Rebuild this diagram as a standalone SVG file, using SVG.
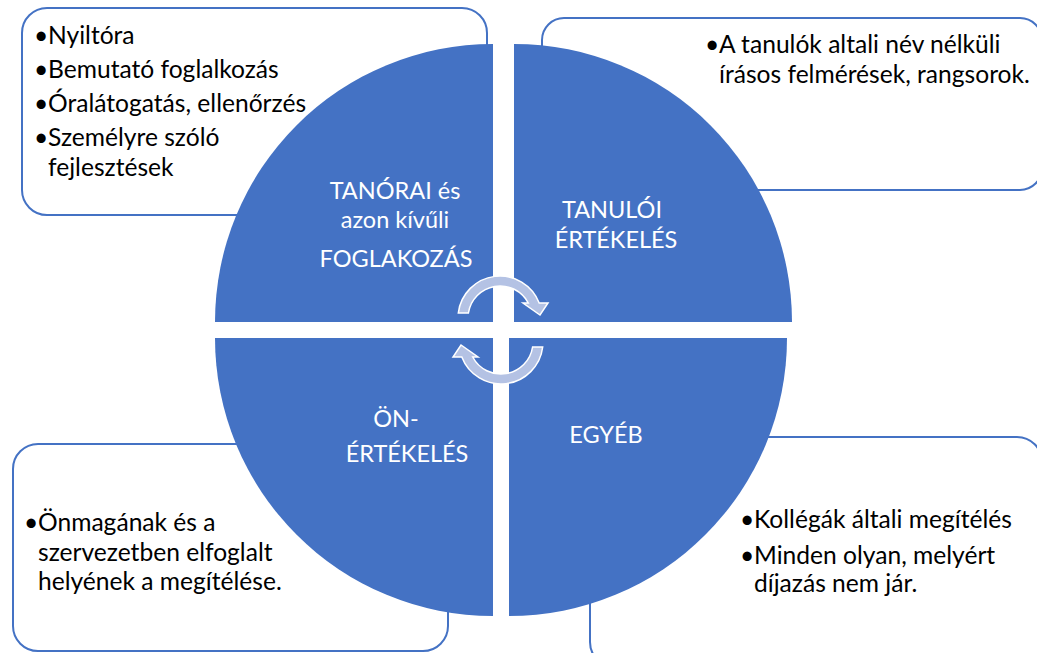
<svg xmlns="http://www.w3.org/2000/svg" width="1037" height="653" viewBox="0 0 1037 653">
<style>
.box{fill:#fff;stroke:#4472C4;stroke-width:2}
.q{fill:#4472C4}
.t{font-family:Lato,"Liberation Sans",sans-serif;font-size:24.6px;fill:#000}
.w{font-family:Lato,"Liberation Sans",sans-serif;font-size:23.5px;fill:#fff;text-anchor:middle}
.arr{fill:#B4C2E4;stroke:#fff;stroke-width:1.5;stroke-linejoin:miter}
</style>
<rect width="1037" height="653" fill="#fff"/>
<g id="box-tl">
<rect class="box" x="22" y="8" width="465" height="207" rx="25"/>
<text class="t" x="34" y="44">•</text><text class="t" x="48" y="44">Nyiltóra</text>
<text class="t" x="34" y="78">•</text><text class="t" x="48" y="78">Bemutató foglalkozás</text>
<text class="t" x="34" y="112">•</text><text class="t" x="48" y="112">Óralátogatás, ellenőrzés</text>
<text class="t" x="34" y="146">•</text><text class="t" x="48" y="146">Személyre szóló</text>
<text class="t" x="48" y="176">fejlesztések</text>
</g>
<g id="box-tr">
<rect class="box" x="542" y="18" width="500" height="172" rx="22"/>
<text class="t" x="705" y="53">•</text><text class="t" x="719" y="53">A tanulók altali név nélküli</text>
<text class="t" x="719" y="83">írásos felmérések, rangsorok.</text>
</g>
<g id="box-bl">
<rect class="box" x="13" y="444" width="435" height="207" rx="25"/>
<text class="t" x="24" y="531">•</text><text class="t" x="38" y="531">Önmagának és a</text>
<text class="t" x="38" y="561">szervezetben elfoglalt</text>
<text class="t" x="38" y="590">helyének a megítélése.</text>
</g>
<g id="box-br">
<rect class="box" x="590" y="437" width="452" height="230" rx="25"/>
<text class="t" x="740" y="528">•</text><text class="t" x="754" y="528">Kollégák általi megítélés</text>
<text class="t" x="740" y="564">•</text><text class="t" x="754" y="564">Minden olyan, melyért</text>
<text class="t" x="754" y="592">díjazás nem jár.</text>
</g>
<g id="q-tl">
<path class="q" d="M493 322 L215 322 A278 278 0 0 1 493 44 Z"/>
<text class="w" x="395" y="199">TANÓRAI és</text>
<text class="w" x="395" y="228">azon kívűli</text>
<text class="w" x="396" y="267">FOGLAKOZÁS</text>
</g>
<g id="q-tr">
<path class="q" d="M514 322 L514 44 A278 278 0 0 1 792 322 Z"/>
<text class="w" x="612" y="218">TANULÓI</text>
<text class="w" x="616" y="248">ÉRTÉKELÉS</text>
</g>
<g id="q-bl">
<path class="q" d="M493 338 L493 616 A278 278 0 0 1 215 338 Z"/>
<text class="w" x="396" y="427">ÖN-</text>
<text class="w" x="407" y="462">ÉRTÉKELÉS</text>
</g>
<g id="q-br">
<path class="q" d="M509 338 L787 338 A278 278 0 0 1 509 616 Z"/>
<text class="w" x="606" y="443">EGYÉB</text>
</g>
<g id="connectors">
<path id="arrow-top" class="arr" d="M458.3 313 A42 42 0 0 1 539.2 303 L548 303 L540 315 L523 303 L528.3 303 A32 32 0 0 0 468.4 313 Z"/>
<path id="arrow-bottom" class="arr" transform="rotate(180 500.5 330)" d="M458.3 313 A42 42 0 0 1 539.2 303 L548 303 L540 315 L523 303 L528.3 303 A32 32 0 0 0 468.4 313 Z"/>
</g>
</svg>
